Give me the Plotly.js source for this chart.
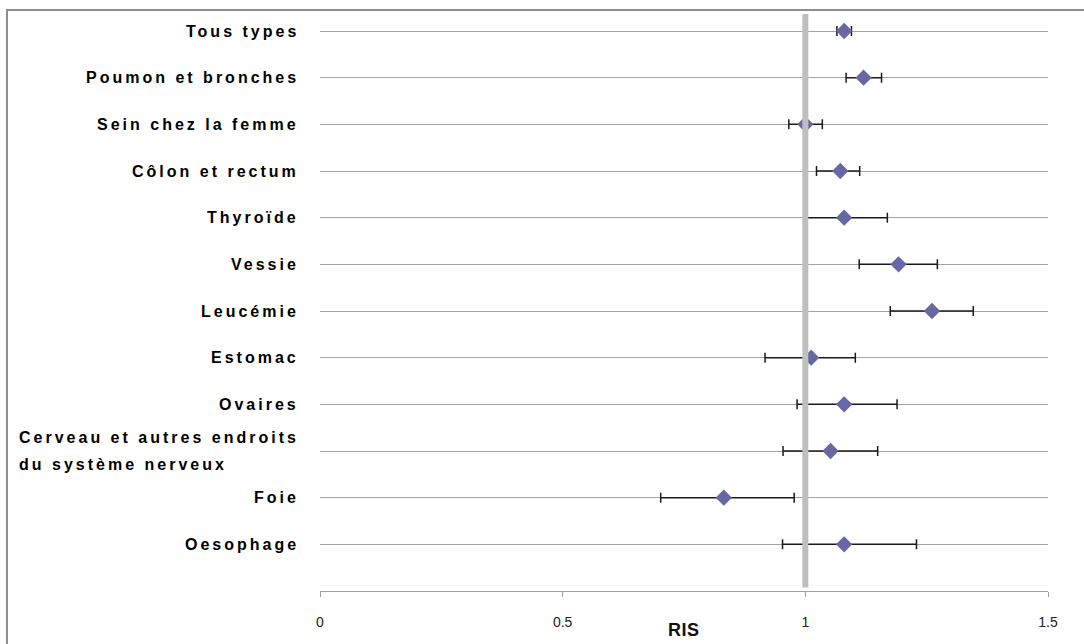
<!DOCTYPE html>
<html>
<head>
<meta charset="utf-8">
<script src="https://cdn.plot.ly/plotly-3.0.1.min.js"></script>
<style>
  html, body { margin: 0; padding: 0; background: #ffffff; overflow: hidden; }
  #chart { width: 1084px; height: 644px; position: absolute; left: 0; top: 0; }
  #frame { position: absolute; left: 6px; top: 9px; width: 1200px; height: 800px;
           border: 2px solid #8e8e8e; pointer-events: none; box-sizing: border-box; }
  .annotation-text { letter-spacing: 3px; }
  .annotation-text[data-unformatted="RIS"] { letter-spacing: 0.5px; }
</style>
</head>
<body>
<div id="chart"></div>
<div id="frame"></div>
<script>
// ---- data (top to bottom as in the picture) ----
var categories = [
  "Tous types",
  "Poumon et bronches",
  "Sein chez la femme",
  "Côlon et rectum",
  "Thyroïde",
  "Vessie",
  "Leucémie",
  "Estomac",
  "Ovaires",
  "Cerveau et autres endroits<br>du système nerveux",
  "Foie",
  "Oesophage"
];
var risValues = [1.080, 1.120, 1.000, 1.072, 1.080, 1.192, 1.261, 1.012, 1.080, 1.052, 0.832, 1.080];
var ciLower   = [1.065, 1.084, 0.966, 1.023, 0.998, 1.111, 1.175, 0.917, 0.983, 0.954, 0.702, 0.953];
var ciUpper   = [1.095, 1.157, 1.035, 1.112, 1.169, 1.272, 1.346, 1.103, 1.189, 1.149, 0.977, 1.229];
var xTickVals = [0, 0.5, 1, 1.5];
var xTickText = ["0", "0.5", "1", "1.5"];
var referenceValue = 1;
var xAxisTitle = "RIS";

// positions: first category at top
var n = categories.length;
var yPos = categories.map(function (c, i) { return n - i; });
var errPlus = risValues.map(function (v, i) { return ciUpper[i] - v; });
var errMinus = risValues.map(function (v, i) { return v - ciLower[i]; });

var catFont = { family: 'Liberation Sans, Arial, sans-serif', size: 16, color: '#000000', weight: 'bold' };

var trace = {
  type: 'scatter',
  mode: 'markers',
  x: risValues,
  y: yPos,
  marker: { symbol: 'diamond', size: 12.5, color: '#6767a3', line: { width: 0 } },
  error_x: {
    type: 'data', symmetric: false,
    array: errPlus, arrayminus: errMinus,
    color: '#1a1a1a', thickness: 1.5, width: 5
  },
  hoverinfo: 'x+y',
  showlegend: false
};

var annotations = categories.map(function (c, i) {
  return {
    xref: 'paper', yref: 'y', x: 0, y: yPos[i],
    xanchor: 'right', yanchor: 'middle', xshift: -19,
    align: 'left', showarrow: false, text: c,
    font: catFont
  };
});
annotations.push({
  xref: 'paper', yref: 'paper', x: 0.5, y: 0,
  xanchor: 'center', yanchor: 'middle', yshift: -39,
  showarrow: false, text: xAxisTitle,
  font: { family: 'Liberation Sans, Arial, sans-serif', size: 18, color: '#111111', weight: 'bold' }
});

var layout = {
  width: 1084, height: 644,
  margin: { l: 320, r: 36, t: 10, b: 53 },
  paper_bgcolor: 'rgba(0,0,0,0)',
  plot_bgcolor: 'rgba(0,0,0,0)',
  xaxis: {
    range: [0, 1.5], tickvals: xTickVals, ticktext: xTickText,
    showgrid: false, zeroline: false,
    showline: true, linecolor: '#a0a0a0', linewidth: 1,
    ticks: 'outside', ticklen: 5, tickcolor: '#a0a0a0', tickwidth: 1,
    ticklabelstandoff: 13,
    tickfont: { family: 'Liberation Sans, Arial, sans-serif', size: 14, color: '#222222' },
    fixedrange: true
  },
  yaxis: {
    range: [0, n + 0.45], tickvals: yPos, showticklabels: false,
    showgrid: true, gridcolor: '#a3a3a3', gridwidth: 1,
    zeroline: false, showline: false, ticks: '', fixedrange: true
  },
  shapes: [{
    type: 'line', layer: 'above', xref: 'x', yref: 'paper',
    x0: referenceValue, x1: referenceValue, y0: 0.006, y1: 0.993,
    line: { color: '#bfbfbf', width: 6 }
  }],
  annotations: annotations
};

Plotly.newPlot('chart', [trace], layout, { displayModeBar: false, staticPlot: true }).then(function () {
  // widen the spacing between the two lines of the multi-line label
  var texts = document.querySelectorAll('#chart .annotation-text');
  texts.forEach(function (t) {
    var lines = t.querySelectorAll('tspan.line');
    if (lines.length === 2) {
      var fs = catFont.size, cur = 1.3 * fs, want = 27;
      var d = (want - cur) / 2;
      lines[0].setAttribute('dy', String(-d));
      lines[1].setAttribute('dy', String(cur + d));
    }
  });
});
</script>
</body>
</html>
